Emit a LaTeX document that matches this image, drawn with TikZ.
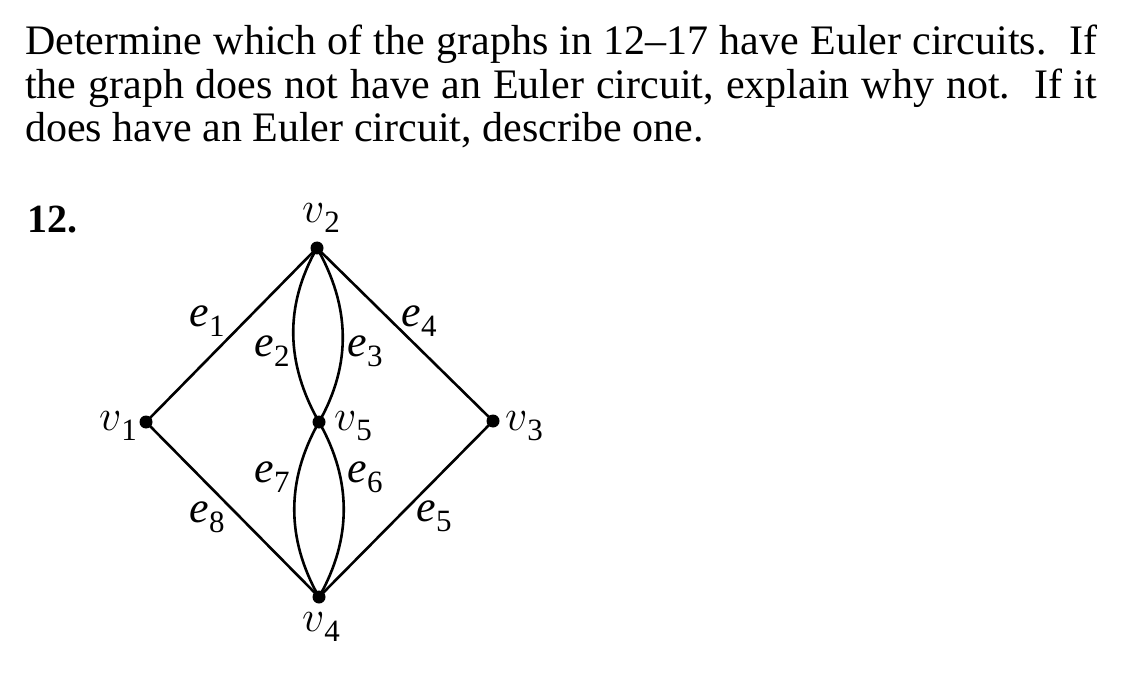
\RequirePackage{fix-cm}
\documentclass[tikz,border=0pt]{standalone}
\usepackage{fontspec}
\setmainfont{Liberation Serif}
\newcommand{\glab}[2]{#1\raisebox{-0.22em}{\fontsize{31}{31}\selectfont #2}}
\newcommand{\vv}{\ensuremath{v}}
\newcommand{\ee}{\textit{e}}
\tikzset{
  vtx/.style={circle,fill=black,inner sep=0pt,minimum size=13pt},
  edge/.style={line width=2.6pt},
  lab/.style={inner sep=0pt,font=\fontsize{44}{44}\selectfont},
  bodytext/.style={inner sep=0pt,anchor=base west,font=\fontsize{42}{48}\selectfont}
}
\begin{document}
\begin{tikzpicture}[x=1pt,y=-1pt]
\useasboundingbox[fill=white] (0,0) rectangle (1124,676);
% text
\node[bodytext] (l1) at (25,55) {\makebox[1072pt][s]{Determine which of the graphs in 12--17 have Euler circuits.\ \ If}};
\node[bodytext] (l2) at (25,98.5) {\makebox[1072pt][s]{the graph does not have an Euler circuit, explain why not.\ \ If it}};
\node[bodytext] (l3) at (25,142) {does have an Euler circuit, describe one.};
\node[bodytext,font=\fontsize{40}{40}\selectfont\bfseries] (num) at (27,233) {12.};
% vertices
\node[vtx] (v1) at (146,422) {};
\node[vtx] (v2) at (317,248) {};
\node[vtx] (v3) at (493,421) {};
\node[vtx] (v4) at (319,597) {};
\node[vtx] (v5) at (319,422) {};
% edges
\draw[edge] (v1.center) -- (v2.center);
\draw[edge] (v2.center) -- (v3.center);
\draw[edge] (v3.center) -- (v4.center);
\draw[edge] (v4.center) -- (v1.center);
\draw[edge] (v2.center) .. controls +(-33,58) and +(-33,-58) .. (v5.center);
\draw[edge] (v2.center) .. controls +(33,58) and +(33,-58) .. (v5.center);
\draw[edge] (v5.center) .. controls +(-33,58) and +(-33,-58) .. (v4.center);
\draw[edge] (v5.center) .. controls +(33,58) and +(33,-58) .. (v4.center);
% vertex labels
\node[lab] (lv1) at (118,426) {\glab{\vv}{1}};
\node[lab] (lv2) at (321,218) {\glab{\vv}{2}};
\node[lab] (lv3) at (524,426) {\glab{\vv}{3}};
\node[lab] (lv4) at (321,627) {\glab{\vv}{4}};
\node[lab] (lv5) at (353,426) {\glab{\vv}{5}};
% edge labels
\node[lab] (le1) at (207,321) {\glab{\ee}{1}};
\node[lab] (le2) at (272,351) {\glab{\ee}{2}};
\node[lab] (le3) at (365,351) {\glab{\ee}{3}};
\node[lab] (le4) at (419,321) {\glab{\ee}{4}};
\node[lab] (le5) at (434,516) {\glab{\ee}{5}};
\node[lab] (le6) at (365,477) {\glab{\ee}{6}};
\node[lab] (le7) at (272,477) {\glab{\ee}{7}};
\node[lab] (le8) at (207,517) {\glab{\ee}{8}};
\end{tikzpicture}
\end{document}
